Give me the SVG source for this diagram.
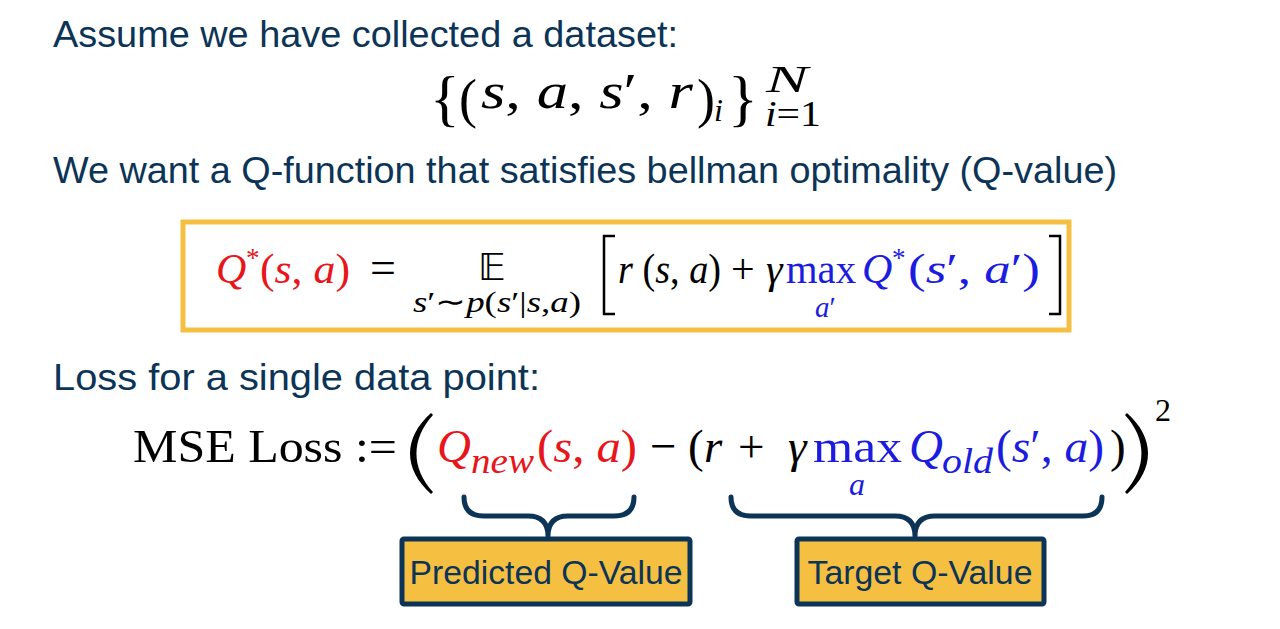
<svg xmlns="http://www.w3.org/2000/svg" width="1280" height="629" viewBox="0 0 1280 629">
<style>
.t{font-family:"Liberation Sans",Arial,sans-serif;fill:#0c3457;}
.m{font-family:"Liberation Serif","Times New Roman",serif;fill:#000;}
.i{font-style:italic;}
.r{fill:#e8151b;}
.b{fill:#1c1ce0;}
.lbl{font-family:"Liberation Sans",Arial,sans-serif;fill:#0c3457;font-size:33px;text-anchor:middle;}
.brace{fill:none;stroke:#0c3457;stroke-width:5;stroke-linecap:round;stroke-linejoin:round;}
.box{fill:#f5bf42;stroke:#0c3457;stroke-width:5;}
</style>
<rect width="1280" height="629" fill="#fff"/>

<g id="heading1">
<text class="t" x="53" y="47" font-size="37" textLength="625" lengthAdjust="spacingAndGlyphs">Assume we have collected a dataset:</text>
</g>

<g id="dataset-formula" class="m">
<text x="430" y="119" font-size="62">{</text>
<text x="459" y="117" font-size="54">(</text>
<text x="481" y="108" font-size="50" textLength="212" lengthAdjust="spacingAndGlyphs"><tspan class="i">s</tspan>, <tspan class="i">a</tspan>, <tspan class="i">s</tspan>′, <tspan class="i">r</tspan></text>
<text x="697" y="117" font-size="54">)</text>
<text x="714" y="121" font-size="32" class="i">i</text>
<text x="728" y="119" font-size="62">}</text>
<text x="766" y="92" font-size="38" class="i" textLength="42" lengthAdjust="spacingAndGlyphs">N</text>
<text x="765" y="126" font-size="36" textLength="56" lengthAdjust="spacingAndGlyphs"><tspan class="i">i</tspan>=1</text>
</g>

<g id="heading2">
<text class="t" x="53" y="183" font-size="37" textLength="1064" lengthAdjust="spacingAndGlyphs">We want a Q-function that satisfies bellman optimality (Q-value)</text>
</g>

<g id="bellman-box">
<rect x="183" y="222" width="886" height="108" fill="#fff" stroke="#f5bf42" stroke-width="5"/>
<g class="m" font-size="42">
<text x="216" y="283" class="i r">Q</text>
<text x="246" y="267" font-size="27" class="r">*</text>
<text x="260" y="283" class="r" textLength="90" lengthAdjust="spacingAndGlyphs">(<tspan class="i">s</tspan>, <tspan class="i">a</tspan>)</text>
<text x="370" y="283" font-size="46">=</text>
<text x="478" y="280" font-size="38" style="font-family:'DejaVu Sans',sans-serif">𝔼</text>
<text x="413" y="312" font-size="30" textLength="168" lengthAdjust="spacingAndGlyphs"><tspan class="i">s</tspan>′∼<tspan class="i">p</tspan>(<tspan class="i">s</tspan>′|<tspan class="i">s</tspan>,<tspan class="i">a</tspan>)</text>
<path d="M615 236 H604 V314 H615" fill="none" stroke="#000" stroke-width="2.5"/>
<text x="618" y="283" textLength="103" lengthAdjust="spacingAndGlyphs"><tspan class="i">r</tspan> (<tspan class="i">s</tspan>, <tspan class="i">a</tspan>)</text>
<text x="731" y="283">+</text>
<text x="766" y="283" class="i">γ</text>
<text x="786" y="283" class="b" textLength="70" lengthAdjust="spacingAndGlyphs">max</text>
<text x="815" y="317" font-size="29" class="b"><tspan class="i">a</tspan>′</text>
<text x="862" y="283" class="i b">Q</text>
<text x="892" y="267" font-size="27" class="b">*</text>
<text x="908" y="283" class="b" textLength="132" lengthAdjust="spacingAndGlyphs">(<tspan class="i">s</tspan>′, <tspan class="i">a</tspan>′)</text>
<path d="M1049 236 H1060 V314 H1049" fill="none" stroke="#000" stroke-width="2.5"/>
</g>
</g>

<g id="heading3">
<text class="t" x="53" y="390" font-size="37" textLength="487" lengthAdjust="spacingAndGlyphs">Loss for a single data point:</text>
</g>

<g id="mse-formula" class="m" font-size="47">
<text x="133" y="462" textLength="264" lengthAdjust="spacingAndGlyphs">MSE Loss :=</text>
<path d="M431 413 C403 438 403 469 431 494 L433 492 C411 468 411 439 433 415 Z" fill="#000"/>
<text x="437" y="462" class="i r">Q</text>
<text x="471" y="473" font-size="36" class="i r" textLength="63" lengthAdjust="spacingAndGlyphs">new</text>
<text x="537" y="462" class="r" textLength="100" lengthAdjust="spacingAndGlyphs">(<tspan class="i">s</tspan>, <tspan class="i">a</tspan>)</text>
<text x="650" y="462">−</text>
<text x="688" y="462">(</text>
<text x="704" y="462" class="i">r</text>
<text x="738" y="462">+</text>
<text x="788" y="462" class="i">γ</text>
<text x="813" y="462" class="b" textLength="89" lengthAdjust="spacingAndGlyphs">max</text>
<text x="849" y="495" font-size="32" class="i b">a</text>
<text x="909" y="462" class="i b">Q</text>
<text x="942" y="473" font-size="36" class="i b" textLength="51" lengthAdjust="spacingAndGlyphs">old</text>
<text x="996" y="462" class="b" textLength="108" lengthAdjust="spacingAndGlyphs">(<tspan class="i">s</tspan>′, <tspan class="i">a</tspan>)</text>
<text x="1110" y="462">)</text>
<path d="M1127 413 C1155 438 1155 469 1127 494 L1125 492 C1147 468 1147 439 1125 415 Z" fill="#000"/>
<text x="1155" y="421" font-size="32">2</text>
</g>

<g id="connectors">
<path class="brace" d="M464 497 Q464 516 484 516 L528 516 Q548 516 548 536 Q548 516 568 516 L614 516 Q634 516 634 497"/>
<path class="brace" d="M731 497 Q731 516 751 516 L895 516 Q915 516 915 536 Q915 516 935 516 L1083 516 Q1102 516 1102 497"/>
</g>

<g id="predicted-q">
<rect class="box" x="402" y="539" width="288" height="65" rx="2"/>
<text class="lbl" x="546" y="584" textLength="273" lengthAdjust="spacingAndGlyphs">Predicted Q-Value</text>
</g>

<g id="target-q">
<rect class="box" x="797" y="539" width="247" height="65" rx="2"/>
<text class="lbl" x="920" y="584" textLength="225" lengthAdjust="spacingAndGlyphs">Target Q-Value</text>
</g>
</svg>
